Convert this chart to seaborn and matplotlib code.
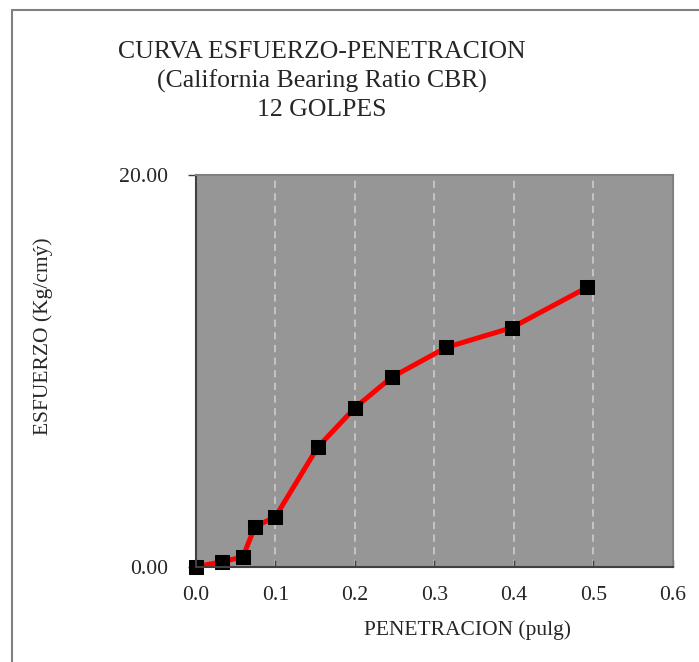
import matplotlib
matplotlib.use("Agg")
import matplotlib.pyplot as plt
import seaborn as sns
import pandas as pd
from matplotlib.lines import Line2D

# data
penetracion = [0.0, 0.033, 0.059, 0.074, 0.100, 0.153, 0.200, 0.246, 0.315, 0.397, 0.492]
esfuerzo = [0.0, 0.25, 0.50, 2.03, 2.55, 6.09, 8.11, 9.66, 11.19, 12.19, 14.25]
x_ticks = [0.0, 0.1, 0.2, 0.3, 0.4, 0.5, 0.6]
y_ticks = [0.0, 20.0]

df = pd.DataFrame({"pen": penetracion, "esf": esfuerzo})

sns.set_style("white")
plt.rcParams["font.family"] = ["Liberation Serif", "DejaVu Serif"]

fig = plt.figure(figsize=(6.99, 6.62), dpi=100)
ax = fig.add_axes([0.2804, 0.1440, 0.6824, 0.5921])
ax.set_facecolor("#969696")

sns.lineplot(data=df, x="pen", y="esf", ax=ax, sort=False, color="red",
             linewidth=3.6, marker="s", markersize=10,
             markerfacecolor="black", markeredgecolor="black", clip_on=False)

ax.set_xlim(0, 0.6)
ax.set_ylim(0, 20)
ax.set_xticks(x_ticks)
ax.set_yticks(y_ticks)
ax.set_xticklabels([f"{v:.1f}" for v in x_ticks])
ax.set_yticklabels([f"{v:.2f}" for v in y_ticks])

# dashed vertical gridlines
for v in x_ticks[1:-1]:
    ax.axvline(v, color="#c8c8c8", linestyle=(0, (4, 3)), linewidth=1.3, zorder=0.5)

ax.tick_params(axis="x", direction="in", length=5, width=1, color="#404040",
               labelsize=15.7, pad=14, bottom=True)
ax.tick_params(axis="y", direction="out", length=6, width=1, color="#404040",
               labelsize=15.7, pad=14, left=True)

for side in ["left", "bottom"]:
    ax.spines[side].set_color("#404040")
    ax.spines[side].set_linewidth(1.5)
for side in ["top", "right"]:
    ax.spines[side].set_color("#808080")
    ax.spines[side].set_linewidth(1.5)

ax.set_xlabel("")
ax.set_ylabel("")

fig.text(0.461, 0.877, "CURVA ESFUERZO-PENETRACION\n(California Bearing Ratio CBR)\n12 GOLPES",
         ha="center", va="center", fontsize=18.5, linespacing=1.36, multialignment="center")
fig.text(0.669, 0.048, "PENETRACION (pulg)", ha="center", va="center", fontsize=15.5)
fig.text(0.062, 0.492, "ESFUERZO (Kg/cmý)", ha="center", va="center",
         fontsize=15.5, rotation=90)

# figure border (left and top)
fig.add_artist(Line2D([12 / 699, 12 / 699], [0, 1 - 10 / 662], transform=fig.transFigure,
                      color="#808080", linewidth=1.5))
fig.add_artist(Line2D([12 / 699, 1], [1 - 10 / 662, 1 - 10 / 662], transform=fig.transFigure,
                      color="#808080", linewidth=1.5))

fig.savefig("out.png", dpi=100)
